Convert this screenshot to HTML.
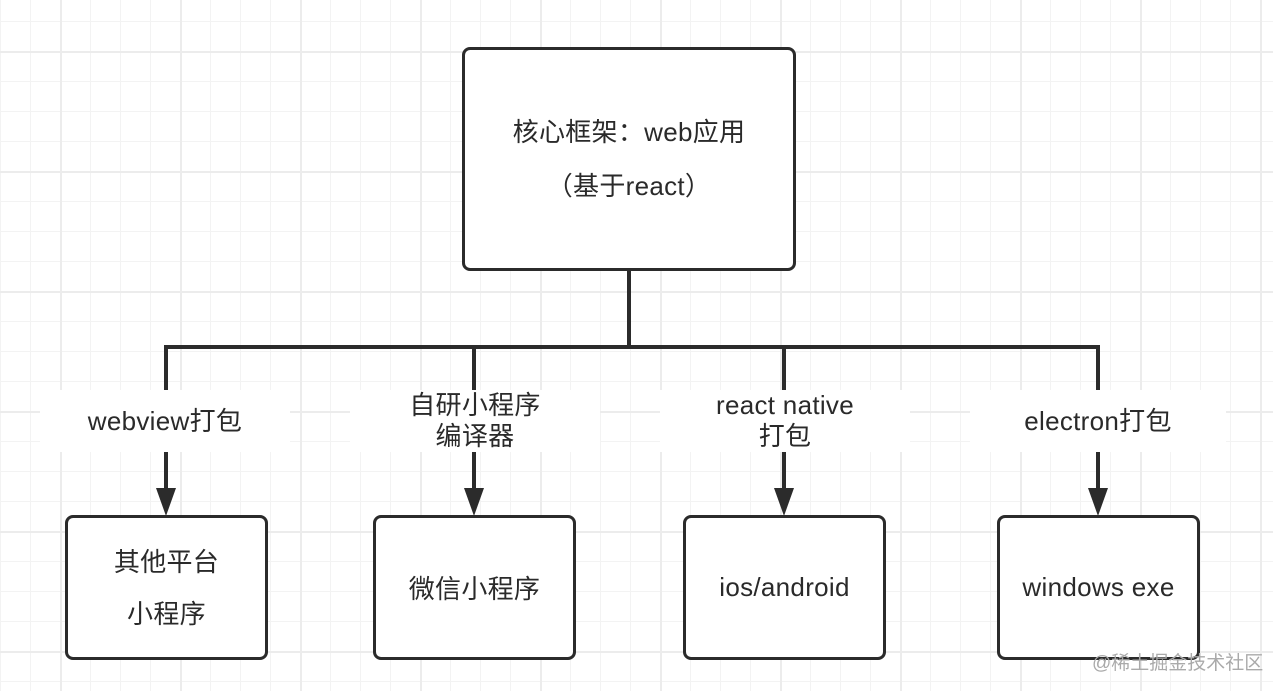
<!DOCTYPE html>
<html><head><meta charset="utf-8"><style>
body{margin:0;width:1273px;height:691px;overflow:hidden;background:#fff;font-family:"Liberation Sans","Noto Sans CJK SC",sans-serif;}
.grid{position:absolute;left:0;top:0;width:1273px;height:691px;
background-image:
linear-gradient(#ececec 2px,transparent 2px),
linear-gradient(90deg,#ececec 2px,transparent 2px),
linear-gradient(#f3f3f3 1px,transparent 1px),
linear-gradient(90deg,#f3f3f3 1px,transparent 1px);
background-size:120px 120px,120px 120px,30px 30px,30px 30px;
background-position:0 51px,60px 0,0 21px,0 0;}
.box{position:absolute;box-sizing:border-box;border:3.5px solid #2b2b2b;border-radius:8px;background:#fff;display:flex;flex-direction:column;align-items:center;justify-content:center;font-size:26px;color:#2a2a2a;text-align:center;letter-spacing:0.3px;}
.lbl{position:absolute;background:#fff;font-size:26px;color:#2a2a2a;text-align:center;display:flex;flex-direction:column;align-items:center;justify-content:center;line-height:31px;letter-spacing:0.3px;}
.ln{position:absolute;background:#2b2b2b;}
</style></head><body>
<div class="grid"></div>
<div class="ln" style="left:627px;top:268px;width:4px;height:81px"></div>
<div class="ln" style="left:164px;top:345px;width:936px;height:4px"></div>
<div class="ln" style="left:164px;top:345px;width:4px;height:150px"></div>
<div class="ln" style="left:472px;top:345px;width:4px;height:150px"></div>
<div class="ln" style="left:782px;top:345px;width:4px;height:150px"></div>
<div class="ln" style="left:1096px;top:345px;width:4px;height:150px"></div>
<svg style="position:absolute;left:0;top:0" width="1273" height="691">
<polygon points="156,488 176,488 166,516" fill="#2b2b2b"/>
<polygon points="464,488 484,488 474,516" fill="#2b2b2b"/>
<polygon points="774,488 794,488 784,516" fill="#2b2b2b"/>
<polygon points="1088,488 1108,488 1098,516" fill="#2b2b2b"/>
</svg>
<div class="lbl" style="left:40px;top:390px;width:250px;height:62px">webview打包</div>
<div class="lbl" style="left:350px;top:390px;width:250px;height:62px">自研小程序<br>编译器</div>
<div class="lbl" style="left:660px;top:390px;width:250px;height:62px">react native<br>打包</div>
<div class="lbl" style="left:970px;top:390px;width:256px;height:62px">electron打包</div>
<div class="box" style="left:462px;top:47px;width:334px;height:224px;line-height:54px">核心框架：web应用<br>（基于react）</div>
<div class="box" style="left:65px;top:515px;width:203px;height:145px;line-height:52px">其他平台<br>小程序</div>
<div class="box" style="left:373px;top:515px;width:203px;height:145px">微信小程序</div>
<div class="box" style="left:683px;top:515px;width:203px;height:145px">ios/android</div>
<div class="box" style="left:997px;top:515px;width:203px;height:145px">windows exe</div>
<div style="position:absolute;left:1092px;top:648px;font-size:19px;color:#aaa">@稀土掘金技术社区</div>
</body></html>
